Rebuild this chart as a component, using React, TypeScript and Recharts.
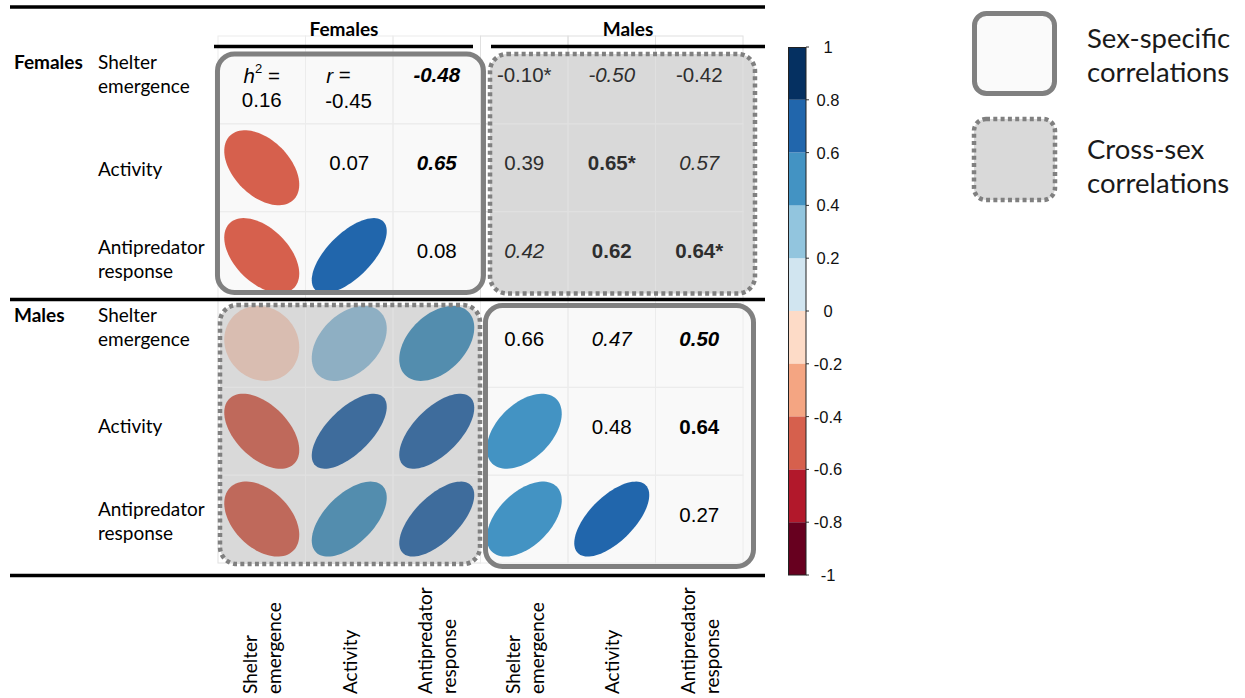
import React from 'react'
import { ScatterChart, Scatter, XAxis, YAxis, ReferenceArea, BarChart, Bar } from 'recharts'

const SEXES = ['Females', 'Males']
const TRAITS = [['Shelter', 'emergence'], ['Activity'], ['Antipredator', 'response']]

// heritabilities on the diagonal
const FEMALE_DIAG = [0.16, 0.07, 0.08]
const MALE_DIAG = [0.66, 0.48, 0.27]

// within-sex correlations, pairs: SE-Act, SE-AP, Act-AP
const FEMALE_R = [-0.45, -0.48, 0.65]
const MALE_R = [0.47, 0.5, 0.64]
// 0 = ns, 1 = italic, 2 = bold, 3 = bold italic
const FEMALE_SIG = [0, 3, 3]
const MALE_SIG = [1, 3, 2]

// cross-sex correlations: rows = female trait, cols = male trait
const CROSS_R = [
  [-0.1, -0.5, -0.42],
  [0.39, 0.65, 0.57],
  [0.42, 0.62, 0.64],
]
const CROSS_SIG = [
  [0, 1, 0],
  [0, 2, 1],
  [1, 2, 2],
]
const CROSS_STAR = [
  [true, false, false],
  [false, true, false],
  [false, false, true],
]

const CB_TICKS = [-1, -0.8, -0.6, -0.4, -0.2, 0, 0.2, 0.4, 0.6, 0.8, 1]
const RDBU = ['#67001f', '#b2182b', '#d6604d', '#f4a582', '#fddbc7', '#d1e5f0', '#92c5de', '#4393c3', '#2166ac', '#053061']
const RDBU_MUTED = ['#6a2a36', '#a8434b', '#bf695b', '#d29a82', '#d9bdb1', '#c4d1d9', '#8eafc3', '#538dae', '#3e6c9c', '#1f3c60']

const pairIdx = (a: number, b: number) => (a === 0 ? b - 1 : 2)

type Cell = {
  row: number
  col: number
  value: number
  kind: 'text' | 'ellipse'
  sig: number
  star: boolean
  cross: boolean
  prefix: string
}

const CELLS: Cell[] = []
for (let row = 0; row < 6; row++) {
  for (let col = 0; col < 6; col++) {
    const rs = row < 3 ? 0 : 1
    const cs = col < 3 ? 0 : 1
    const ti = row % 3
    const tj = col % 3
    if (rs === cs) {
      const diag = rs === 0 ? FEMALE_DIAG : MALE_DIAG
      const R = rs === 0 ? FEMALE_R : MALE_R
      const S = rs === 0 ? FEMALE_SIG : MALE_SIG
      if (ti === tj) {
        CELLS.push({ row, col, value: diag[ti], kind: 'text', sig: 0, star: false, cross: false, prefix: rs === 0 && ti === 0 ? 'h2' : '' })
      } else {
        const k = pairIdx(Math.min(ti, tj), Math.max(ti, tj))
        if (col > row) {
          CELLS.push({ row, col, value: R[k], kind: 'text', sig: S[k], star: false, cross: false, prefix: rs === 0 && k === 0 ? 'r' : '' })
        } else {
          CELLS.push({ row, col, value: R[k], kind: 'ellipse', sig: 0, star: false, cross: false, prefix: '' })
        }
      }
    } else {
      const fi = rs === 0 ? ti : tj
      const mi = rs === 0 ? tj : ti
      if (rs === 0) {
        CELLS.push({ row, col, value: CROSS_R[fi][mi], kind: 'text', sig: CROSS_SIG[fi][mi], star: CROSS_STAR[fi][mi], cross: true, prefix: '' })
      } else {
        CELLS.push({ row, col, value: CROSS_R[fi][mi], kind: 'ellipse', sig: 0, star: false, cross: true, prefix: '' })
      }
    }
  }
}

// colour bar: one stacked column, negative bins stack down from 0, positive bins up
const CB_ROW: Record<string, number | string> = { name: 'cb' }
RDBU.forEach((_, i) => {
  CB_ROW['b' + i] = (CB_TICKS[i + 1] - CB_TICKS[i]) * (i < 5 ? -1 : 1)
})
const CB_ORDER = [4, 3, 2, 1, 0, 5, 6, 7, 8, 9]

// rounded boxes around the four blocks (data units of the grid)
const BLOCKS = [
  { x1: -0.506, x2: 2.534, y1: -0.295, y2: 2.42, cross: false },
  { x1: 2.609, x2: 5.637, y1: -0.295, y2: 2.431, cross: true },
  { x1: -0.477, x2: 2.494, y1: 2.563, y2: 5.512, cross: true },
  { x1: 2.557, x2: 5.62, y1: 2.568, y2: 5.54, cross: false },
]

const CELL_W = 525 / 6
const CELL_H = 527 / 6
const NUM_FONT = '"Liberation Sans", Arial, Helvetica, sans-serif'
const LABEL_FONT = 'Lato, "Open Sans", sans-serif'
const ROW_LABEL_SHIFT = [-6, 1, 2.5, -16.5, -6, 1.5]

const binOf = (r: number) => Math.max(0, Math.min(9, Math.floor((r + 1) / 0.2 + 1e-9)))

function ellipsePath(cx: number, cy: number, r: number, s: number) {
  const d = Math.acos(r)
  let path = ''
  for (let k = 0; k <= 90; k++) {
    const t = (k / 90) * 2 * Math.PI
    const x = Math.cos(t + d / 2)
    const y = Math.cos(t - d / 2)
    path += (k ? 'L' : 'M') + (cx + s * x).toFixed(2) + ',' + (cy - s * y).toFixed(2)
  }
  return path + 'Z'
}

function renderCell(props: any) {
  const { cx, cy, payload } = props
  const p = payload as Cell
  if (cx == null || cy == null || !p) return <g />
  const frame = (
    <rect x={cx - CELL_W / 2} y={cy - CELL_H / 2} width={CELL_W} height={CELL_H} fill="none" stroke={p.cross ? '#e0e0e0' : '#ececec'} strokeWidth={1} />
  )
  if (p.kind === 'ellipse') {
    const bin = binOf(p.value)
    return (
      <g>
        {frame}
        <path d={ellipsePath(cx, cy, p.value, 37.5)} fill={p.cross ? RDBU_MUTED[bin] : RDBU[bin]} />
      </g>
    )
  }
  const label = p.value.toFixed(2) + (p.star ? '*' : '')
  const txt = {
    fontFamily: NUM_FONT,
    fontSize: 20.5,
    fill: p.cross ? '#2e2e2e' : '#000',
    fontWeight: p.sig >= 2 ? 700 : 400,
    fontStyle: p.sig % 2 === 1 ? 'italic' : 'normal',
    dominantBaseline: 'central' as const,
  }
  if (p.prefix === 'h2') {
    return (
      <g>
        {frame}
        <text x={cx} y={cy - 5} textAnchor="middle" {...txt}>
          <tspan fontStyle="italic">h</tspan>
          <tspan fontSize={13} dy={-7}>2</tspan>
          <tspan dy={7}> =</tspan>
        </text>
        <text x={cx} y={cy + 20} textAnchor="middle" {...txt}>{label}</text>
      </g>
    )
  }
  if (p.prefix === 'r') {
    return (
      <g>
        {frame}
        <text x={cx - 23} y={cy - 5} textAnchor="start" {...txt}>
          <tspan fontStyle="italic">r</tspan> =
        </text>
        <text x={cx - 24} y={cy + 21} textAnchor="start" {...txt}>{label}</text>
      </g>
    )
  }
  return (
    <g>
      {frame}
      <text x={cx} y={cy - 5} textAnchor="middle" {...txt}>{label}</text>
    </g>
  )
}

function RowTick(props: any) {
  const { y, payload } = props
  const row = payload.value as number
  const lines = TRAITS[row % 3]
  const mid = y + ROW_LABEL_SHIFT[row]
  const first = lines.length === 2 ? mid - 12 : mid
  return (
    <g fontFamily={LABEL_FONT} fontSize={19} fill="#000">
      {row % 3 === 0 && (
        <text x={14} y={first} fontWeight={700} dominantBaseline="central">{SEXES[row < 3 ? 0 : 1]}</text>
      )}
      {lines.map((l, i) => (
        <text key={l} x={98} y={first + i * 24} dominantBaseline="central">{l}</text>
      ))}
    </g>
  )
}

function ColTick(props: any) {
  const { x, payload } = props
  const lines = TRAITS[(payload.value as number) % 3]
  const off = lines.length === 2 ? -12 : 0
  return (
    <g transform={`translate(${x}, 694) rotate(-90)`} fontFamily={LABEL_FONT} fontSize={19} fill="#000">
      {lines.map((l, i) => (
        <text key={l} x={0} y={off + i * 24} textAnchor="start" dominantBaseline="central">{l}</text>
      ))}
    </g>
  )
}

const blockShape = (cross: boolean, part: 'fill' | 'stroke') => (props: any) => {
  const { x, y, width, height } = props
  return (
    <rect
      x={x}
      y={y}
      width={width}
      height={height}
      rx={17}
      fill={part === 'fill' ? (cross ? '#d9d9d9' : '#f9f9f9') : 'none'}
      stroke={part === 'stroke' ? '#808080' : 'none'}
      strokeWidth={cross ? 4.5 : 5}
      strokeDasharray={cross ? '4 3.3' : undefined}
    />
  )
}

function CbTick(props: any) {
  const { y, payload } = props
  const v = payload.value as number
  return (
    <g>
      <line x1={26} x2={29} y1={y} y2={y} stroke="#333" strokeWidth={1} />
      <text x={48} y={y} textAnchor="middle" dominantBaseline="central" fontFamily={NUM_FONT} fontSize={16.5} fill="#111">
        {String(Math.round(v * 10) / 10)}
      </text>
    </g>
  )
}

export default function App() {
  return (
    <div style={{ position: 'absolute', left: 0, top: 0, width: 1245, height: 698, background: '#fff' }}>
      <div style={{ position: 'absolute', left: 0, top: 0 }}>
        <ScatterChart width={1245} height={698} margin={{ top: 36, right: 502, bottom: 0, left: 98 }}>
          <XAxis type="number" dataKey="col" domain={[-0.5, 5.5]} ticks={[0, 1, 2, 3, 4, 5]} interval={0} height={135} axisLine={false} tickLine={false} tick={ColTick} />
          <YAxis type="number" dataKey="row" domain={[-0.5, 5.5]} ticks={[0, 1, 2, 3, 4, 5]} interval={0} reversed width={120} axisLine={false} tickLine={false} tick={RowTick} />
          {BLOCKS.map((b, i) => (
            <ReferenceArea key={'f' + i} x1={b.x1} x2={b.x2} y1={b.y1} y2={b.y2} ifOverflow="visible" shape={blockShape(b.cross, 'fill')} />
          ))}
          <Scatter data={CELLS} shape={renderCell} isAnimationActive={false} />
          {BLOCKS.map((b, i) => (
            <ReferenceArea key={'s' + i} x1={b.x1} x2={b.x2} y1={b.y1} y2={b.y2} ifOverflow="visible" zIndex={1000} shape={blockShape(b.cross, 'stroke')} />
          ))}
        </ScatterChart>
      </div>

      <div style={{ position: 'absolute', left: 780, top: 0 }}>
        <BarChart width={80} height={698} data={[CB_ROW]} stackOffset="sign" barCategoryGap={0} margin={{ top: 47, right: 0, bottom: 123, left: 8 }}>
          <XAxis type="category" dataKey="name" hide />
          <YAxis type="number" orientation="right" domain={[-1, 1]} ticks={CB_TICKS} interval={0} width={54} axisLine={false} tickLine={false} tick={CbTick} allowDataOverflow />
          {CB_ORDER.map((i) => (
            <Bar key={i} dataKey={'b' + i} stackId="cb" fill={RDBU[i]} isAnimationActive={false} />
          ))}
        </BarChart>
      </div>

      <svg width={1245} height={698} style={{ position: 'absolute', left: 0, top: 0, pointerEvents: 'none' }}>
        <g stroke="#000" strokeWidth={3.5}>
          <line x1={10} x2={765} y1={7} y2={7} />
          <line x1={214} x2={473} y1={46.5} y2={46.5} />
          <line x1={491} x2={765} y1={46.5} y2={46.5} />
          <line x1={10} x2={765} y1={299.5} y2={299.5} />
          <line x1={10} x2={765} y1={575.5} y2={575.5} />
        </g>
        <rect x={788.5} y={47.5} width={17.5} height={527.5} fill="none" stroke="#222" strokeWidth={1} />
        <g fontFamily={LABEL_FONT} fontSize={19} fontWeight={700} fill="#000" textAnchor="middle">
          <text x={344} y={28} dominantBaseline="central">Females</text>
          <text x={628} y={28} dominantBaseline="central">Males</text>
        </g>
        <rect x={974.5} y={13.5} width={80} height={80} rx={12} fill="#fafafa" stroke="#808080" strokeWidth={5} />
        <rect x={974} y={119} width={81} height={81} rx={12} fill="#d9d9d9" stroke="#808080" strokeWidth={4.5} strokeDasharray="4 3.3" />
        <g fontFamily={LABEL_FONT} fontSize={27.5} fill="#1a1a1a">
          <text x={1087} y={37} dominantBaseline="central">Sex-specific</text>
          <text x={1087} y={71} dominantBaseline="central">correlations</text>
          <text x={1087} y={148} dominantBaseline="central">Cross-sex</text>
          <text x={1087} y={182} dominantBaseline="central">correlations</text>
        </g>
      </svg>
    </div>
  )
}
